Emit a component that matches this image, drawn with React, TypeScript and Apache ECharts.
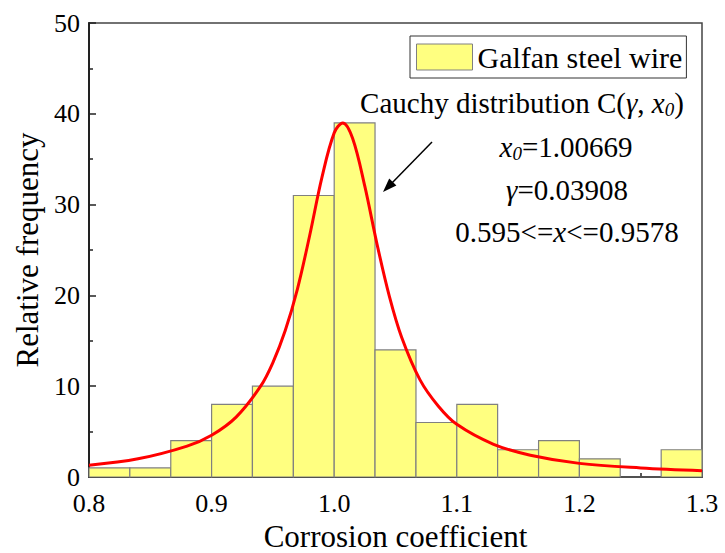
import React, { useEffect, useRef } from "react";
import * as echarts from "echarts";

const binStarts = [0.8, 0.8333, 0.8667, 0.9, 0.9333, 0.9667, 1.0, 1.0333, 1.0667, 1.1, 1.1333, 1.1667, 1.2, 1.2333, 1.2667];
const binEnds = [0.8333, 0.8667, 0.9, 0.9333, 0.9667, 1.0, 1.0333, 1.0667, 1.1, 1.1333, 1.1667, 1.2, 1.2333, 1.2667, 1.3];
const frequencies = [1, 1, 4, 8, 10, 31, 39, 14, 6, 8, 3, 4, 2, 0, 3];

const curveX = [0.8, 0.84, 0.88, 0.9, 0.92, 0.94, 0.95, 0.96, 0.97, 0.98, 0.99, 1.0, 1.007, 1.015, 1.025, 1.035, 1.045, 1.055, 1.07, 1.085, 1.1, 1.13, 1.16, 1.2, 1.25, 1.3];
const curveY = [1.3, 2.0, 3.4, 4.6, 6.6, 10.0, 12.6, 16.1, 20.7, 26.6, 33.0, 37.9, 39.0, 37.3, 32.0, 25.6, 19.9, 15.4, 10.7, 7.8, 5.8, 3.6, 2.4, 1.5, 1.0, 0.7];

const FONT = "Liberation Serif";

export default function App() {
  const ref = useRef<HTMLDivElement>(null);
  useEffect(() => {
    if (!ref.current) return;
    const chart = echarts.init(ref.current, null, { renderer: "svg" });
    const barData = frequencies.map((f, i) => [binStarts[i], binEnds[i], f]);
    const lineData = curveX.map((x, i) => [x, curveY[i]]);
    const rich = {
      n: { fontFamily: FONT, fontSize: 29, color: "#000" },
      i: { fontFamily: FONT, fontSize: 29, fontStyle: "italic", color: "#000" },
      s: { fontFamily: FONT, fontSize: 19, fontStyle: "italic", color: "#000", padding: [12, 0, 0, 0] },
    };
    const ann = (text: string, x: number, y: number) => ({
      type: "text", x, y,
      style: { text, rich, align: "center", verticalAlign: "middle" },
    });
    chart.setOption({
      animation: false,
      backgroundColor: "#fff",
      textStyle: { fontFamily: FONT },
      grid: {
        left: 89, right: 23, top: 23, bottom: 76,
        outerBoundsMode: "none", containLabel: false,
        show: true, borderColor: "#444", borderWidth: 1.5, backgroundColor: "transparent",
      },
      legend: {
        left: 410, top: 36,
        orient: "vertical",
        borderColor: "#333", borderWidth: 1, padding: [6, 4, 6, 6],
        itemWidth: 56, itemHeight: 26, itemGap: 0,
        textStyle: { fontFamily: FONT, fontSize: 30, color: "#000" },
        data: [{ name: "Galfan steel wire", icon: "rect", itemStyle: { color: "#ffff80", borderColor: "#808080", borderWidth: 1 } }],
      },
      xAxis: {
        type: "value", min: 0.8, max: 1.3, interval: 0.1,
        name: "Corrosion coefficient", nameLocation: "middle", nameGap: 43,
        nameTextStyle: { fontFamily: FONT, fontSize: 31, color: "#000", lineHeight: 31 },
        axisLine: { show: true, onZero: false, lineStyle: { color: "#222", width: 2 } },
        axisTick: { show: true, inside: true, length: 7, lineStyle: { color: "#222", width: 1.5 } },
        minorTick: { show: true, splitNumber: 2, length: 4, lineStyle: { color: "#222", width: 1.5 } },
        splitLine: { show: false },
        axisLabel: { fontFamily: FONT, fontSize: 26, color: "#000", margin: 13, formatter: (v: number) => v.toFixed(1) },
      },
      yAxis: {
        type: "value", min: 0, max: 50, interval: 10,
        name: "Relative frequency", nameLocation: "middle", nameGap: 45,
        nameTextStyle: { fontFamily: FONT, fontSize: 31, color: "#000" },
        axisLine: { show: true, lineStyle: { color: "#222", width: 2 } },
        axisTick: { show: true, inside: true, length: 7, lineStyle: { color: "#222", width: 1.5 } },
        minorTick: { show: true, splitNumber: 2, length: 4, lineStyle: { color: "#222", width: 1.5 } },
        splitLine: { show: false },
        axisLabel: { fontFamily: FONT, fontSize: 26, color: "#000", margin: 9, lineHeight: 24 },
      },
      series: [
        {
          name: "Galfan steel wire",
          type: "custom",
          data: barData,
          itemStyle: { color: "#ffff80", borderColor: "#808080", borderWidth: 1 },
          renderItem: (params: any, api: any) => {
            const p0 = api.coord([api.value(0), api.value(2)]);
            const p1 = api.coord([api.value(1), 0]);
            return {
              type: "rect",
              shape: { x: p0[0], y: p0[1], width: p1[0] - p0[0], height: p1[1] - p0[1] },
              style: { fill: "#ffff80", stroke: "#808080", lineWidth: 1.2 },
            };
          },
          encode: { x: [0, 1], y: 2 },
          z: 2,
        },
        {
          name: "Cauchy",
          type: "line",
          data: lineData,
          smooth: 0.35,
          showSymbol: false,
          symbol: "none",
          lineStyle: { color: "#ff0000", width: 3 },
          z: 3,
        },
      ],
      graphic: [
        ann("{n|Cauchy distribution C(}{i|γ}{n|, }{i|x}{s|0}{n|)}", 522, 103),
        ann("{i|x}{s|0}{n|=1.00669}", 566, 147),
        ann("{i|γ}{n|=0.03908}", 567, 190),
        ann("{n|0.595<=}{i|x}{n|<=0.9578}", 567, 232),
        {
          type: "line",
          shape: { x1: 432, y1: 142, x2: 390, y2: 185 },
          style: { stroke: "#000", lineWidth: 1.5 },
        },
        {
          type: "polygon",
          shape: { points: [[383, 192], [396.4, 185.5], [389.2, 178.5]] },
          style: { fill: "#000" },
        },
      ],
    });
    return () => chart.dispose();
  }, []);
  return <div ref={ref} style={{ width: 725, height: 553, position: "absolute", left: 0, top: 0 }} />;
}
